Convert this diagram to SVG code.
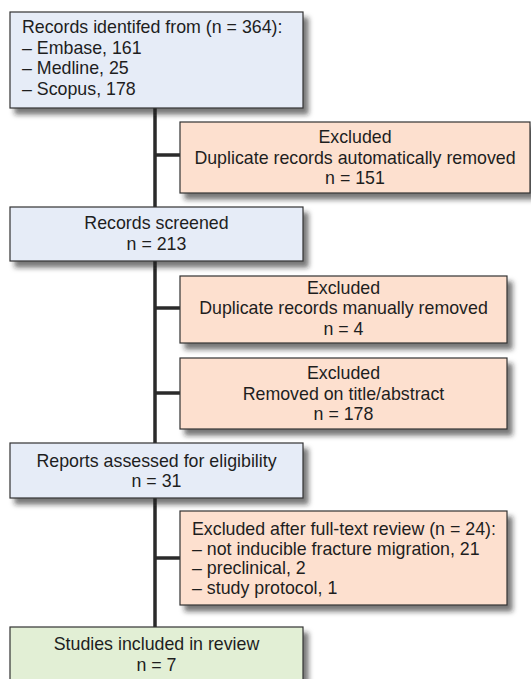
<svg xmlns="http://www.w3.org/2000/svg" width="531" height="679" viewBox="0 0 531 679">
<defs>
<filter id="sh" x="-10%" y="-10%" width="130%" height="140%">
<feDropShadow dx="5" dy="6" stdDeviation="2.5" flood-color="#222" flood-opacity="0.6"/>
</filter>
<style>
.box{stroke:#333;stroke-width:1.2;filter:url(#sh)}
.blue{fill:#e6ecf7}
.orange{fill:#fde0cf}
.green{fill:#e2efd5}
text{font-family:"Liberation Sans",Arial,sans-serif;font-size:17.8px;fill:#1e1e1e}
.c{text-anchor:middle}
.line{stroke:#2a2a2a;stroke-width:3.5;fill:none}
</style>
</defs>
<rect width="531" height="679" fill="#fff"/>
<g id="connectors">
<line class="line" x1="155" y1="108" x2="155" y2="627"/>
<line class="line" x1="155" y1="155" x2="180" y2="155"/>
<line class="line" x1="155" y1="308" x2="180" y2="308"/>
<line class="line" x1="155" y1="393" x2="180" y2="393"/>
<line class="line" x1="155" y1="558" x2="180" y2="558"/>
</g>
<g id="n1">
<rect class="box blue" x="10" y="12" width="293" height="96"/>
<text x="22" y="33">Records identifed from (n = 364):</text>
<text x="22" y="53.5">– Embase, 161</text>
<text x="22" y="74">– Medline, 25</text>
<text x="22" y="94.5">– Scopus, 178</text>
</g>
<g id="x1">
<rect class="box orange" x="180" y="122" width="350" height="71"/>
<text class="c" x="355" y="143">Excluded</text>
<text class="c" x="355" y="163.5">Duplicate records automatically removed</text>
<text class="c" x="355" y="184">n = 151</text>
</g>
<g id="n2">
<rect class="box blue" x="10" y="207" width="293" height="54"/>
<text class="c" x="156.5" y="229">Records screened</text>
<text class="c" x="156.5" y="249.5">n = 213</text>
</g>
<g id="x2">
<rect class="box orange" x="180" y="276" width="327" height="67"/>
<text class="c" x="343.5" y="294">Excluded</text>
<text class="c" x="343.5" y="314">Duplicate records manually removed</text>
<text class="c" x="343.5" y="334.5">n = 4</text>
</g>
<g id="x3">
<rect class="box orange" x="180" y="358" width="327" height="71"/>
<text class="c" x="343.5" y="379">Excluded</text>
<text class="c" x="343.5" y="399.5">Removed on title/abstract</text>
<text class="c" x="343.5" y="420">n = 178</text>
</g>
<g id="n3">
<rect class="box blue" x="10" y="443" width="293" height="55"/>
<text class="c" x="156.5" y="466.5">Reports assessed for eligibility</text>
<text class="c" x="156.5" y="487">n = 31</text>
</g>
<g id="x4">
<rect class="box orange" x="180" y="511" width="327" height="94"/>
<text x="192" y="535">Excluded after full-text review (n = 24):</text>
<text x="192" y="554.5">– not inducible fracture migration, 21</text>
<text x="192" y="574">– preclinical, 2</text>
<text x="192" y="593.5">– study protocol, 1</text>
</g>
<g id="n4">
<rect class="box green" x="10" y="627" width="293" height="70"/>
<text class="c" x="156.5" y="650">Studies included in review</text>
<text class="c" x="156.5" y="671">n = 7</text>
</g>
</svg>
